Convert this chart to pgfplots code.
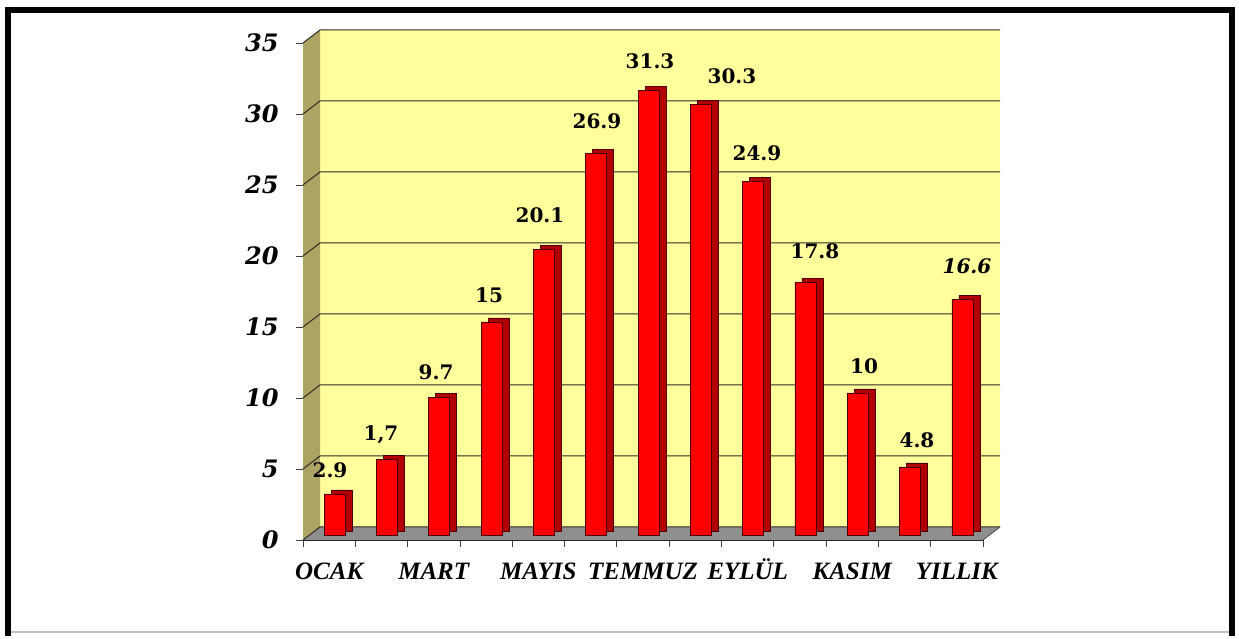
\documentclass[border=0pt]{standalone}
\usepackage{fontspec}
\setmainfont{Liberation Serif}
\newfontfamily\numfont{DejaVu Serif}
\usepackage{pgfplots}
\pgfplotsset{compat=1.18}

\definecolor{wallyel}{HTML}{FFFF9C}
\definecolor{wallolive}{HTML}{ADA463}
\definecolor{floorgray}{HTML}{8F8F8F}
\definecolor{barred}{HTML}{FF0000}
\definecolor{barside}{HTML}{B00000}
\definecolor{barline}{HTML}{4A0000}

\begin{document}
\begin{tikzpicture}
% frame of the picture
\fill[white] (0pt,0pt) rectangle (1239pt,636pt);
\draw[gray!50, line width=1.5pt] (9pt,4pt) -- (1231pt,4pt);
\draw[black, line width=6pt] (8pt,0pt) -- (8pt,626pt) -- (1232pt,626pt) -- (1232pt,0pt);

\begin{axis}[
    at={(303pt,96pt)}, anchor=south west,
    scale only axis,
    width=680pt, height=497pt,
    xmin=0.5, xmax=13.5,
    ymin=0, ymax=35,
    clip=false,
    axis x line*=bottom,
    axis y line*=left,
    axis line style={black!85, line width=0.9pt, -},
    xtick={0.5,1.5,...,13.5},
    xticklabels={},
    extra x ticks={1,3,5,7,9,11,13},
    extra x tick labels={OCAK,MART,MAYIS,TEMMUZ,EYLÜL,KASIM,YILLIK},
    extra x tick style={major tick length=0pt,
        ticklabel style={font=\bfseries\itshape\fontsize{25}{25}\selectfont,
            text height=22pt, text depth=0pt, yshift=-13.5pt}},
    ytick={0,5,...,35},
    tick align=outside,
    major tick length=7pt,
    tick style={black!75, line width=0.8pt},
    /pgf/number format/assume math mode=true,
    yticklabel style={font=\numfont\bfseries\itshape\fontsize{24}{24}\selectfont, xshift=-14pt},
]

% walls and floor of the 3-D box
\fill[wallyel] ([xshift=17pt,yshift=13pt]axis cs:0.5,0) rectangle ([xshift=17pt,yshift=13pt]axis cs:13.5,35);
\fill[wallolive] (axis cs:0.5,0) -- ([xshift=17pt,yshift=13pt]axis cs:0.5,0)
    -- ([xshift=17pt,yshift=13pt]axis cs:0.5,35) -- (axis cs:0.5,35) -- cycle;
\fill[floorgray] (axis cs:0.5,0) -- (axis cs:13.5,0)
    -- ([xshift=17pt,yshift=13pt]axis cs:13.5,0) -- ([xshift=17pt,yshift=13pt]axis cs:0.5,0) -- cycle;
\pgfplotsinvokeforeach{0,5,10,15,20,25,30,35}{
  \draw[black!90!olive, line width=1pt] (axis cs:0.5,#1) -- ([xshift=17pt,yshift=13pt]axis cs:0.5,#1)
      -- ([xshift=17pt,yshift=13pt]axis cs:13.5,#1);
}
\draw[black!70, line width=0.8pt] (axis cs:13.5,0) -- ([xshift=17pt,yshift=13pt]axis cs:13.5,0);

% side and top of the bars
\addplot[ybar, bar width=21pt, bar shift=12.5pt, yshift=9pt,
    fill=barside, draw=barline, line width=0.6pt] coordinates {
    (1,2.9) (2,5.3) (3,9.7) (4,15) (5,20.1) (6,26.9) (7,31.3)
    (8,30.3) (9,24.9) (10,17.8) (11,10) (12,4.8) (13,16.6)
};
% front of the bars
\addplot[ybar, bar width=21pt, bar shift=5.5pt, yshift=5pt,
    fill=barred, draw=barline, line width=0.6pt] coordinates {
    (1,2.9) (2,5.3) (3,9.7) (4,15) (5,20.1) (6,26.9) (7,31.3)
    (8,30.3) (9,24.9) (10,17.8) (11,10) (12,4.8) (13,16.6)
};

% value labels where the chart puts them
\addplot[draw=none, mark=none,
    point meta=explicit symbolic,
    nodes near coords,
    every node near coord/.append style={font=\numfont\bfseries\fontsize{20}{20}\selectfont,
        anchor=center, inner sep=0pt, black}] coordinates {
    (1.016,4.93) [2.9]
    (1.991,7.39) [{1,7}]
    (3.043,11.83) [9.7]
    (4.056,17.25) [15]
    (5.031,22.89) [20.1]
    (6.120,29.51) [26.9]
    (7.134,33.73) [31.3]
    (8.701,32.68) [30.3]
    (9.179,27.25) [24.9]
    (10.288,20.35) [17.8]
    (11.225,12.25) [10]
    (12.238,7.04) [4.8]
    (13.194,19.30) [\itshape 16.6]
};
\end{axis}
\end{tikzpicture}
\end{document}
